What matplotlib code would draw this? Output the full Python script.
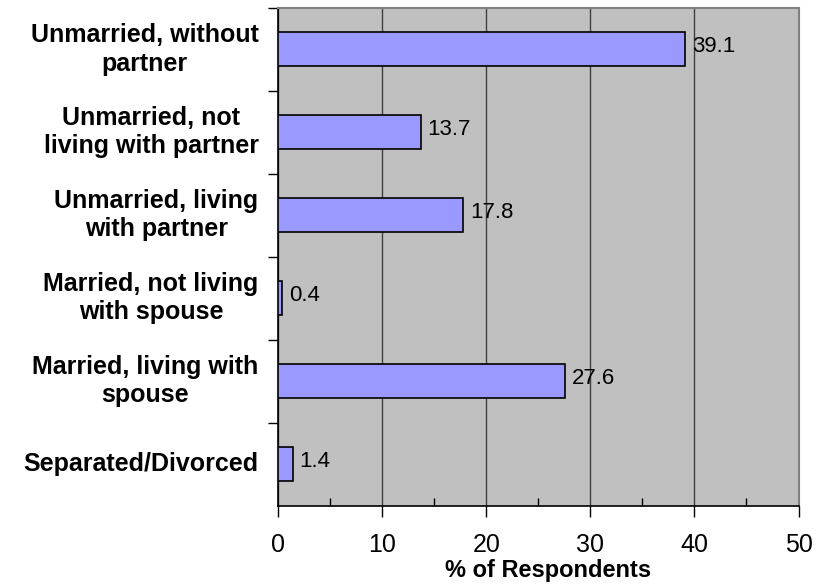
import matplotlib
matplotlib.use("Agg")
import matplotlib.pyplot as plt
from matplotlib.ticker import MultipleLocator

plt.rcParams['font.family'] = ['Liberation Sans', 'DejaVu Sans']

categories = ["Unmarried, without\npartner", "Unmarried, not\nliving with partner",
              "Unmarried, living\nwith partner", "Married, not living\nwith spouse",
              "Married, living with\nspouse", "Separated/Divorced"]
values = [39.1, 13.7, 17.8, 0.4, 27.6, 1.4]
xticks = [0, 10, 20, 30, 40, 50]

fig = plt.figure(figsize=(8.17, 5.86), dpi=100)
ax = fig.add_axes([278/817, 1-505.5/586, 520.5/817, 497.5/586])
ax.set_facecolor('#C0C0C0')

n = len(categories)
ypos = list(range(n))[::-1]
ax.barh(ypos, values, height=0.41, color='#9999FF', edgecolor='black', linewidth=1.2, zorder=3)
for y, v in zip(ypos, values):
    ax.text(v + 0.65, y + 0.03, f"{v}", va='center', ha='left', fontsize=16, zorder=4)

ax.set_xlim(0, 50)
ax.set_ylim(-0.5, n - 0.5)
ax.set_xticks(xticks)
ax.set_xticklabels([str(t) for t in xticks], fontsize=18)
ax.xaxis.set_minor_locator(MultipleLocator(5))
ax.tick_params(axis='x', which='major', direction='out', length=8, width=1, pad=12)
ax.tick_params(axis='x', which='minor', direction='in', length=5.5, width=1)
ax.set_yticks([i + 0.5 for i in range(n)])
ax.set_yticklabels([])
ax.tick_params(axis='y', which='major', direction='out', length=7, width=1)
ax.set_yticks([y + (0.06 if '\n' in c else 0.025) for y, c in zip(ypos, categories)], minor=True)
ax.set_yticklabels(categories, minor=True, fontsize=18, fontweight='bold', ha='right',
                   multialignment='center', linespacing=1.24)
ax.tick_params(axis='y', which='minor', length=0, pad=14)
ax.grid(axis='x', which='major', color='#404040', linewidth=1, zorder=1)
ax.set_xlabel('% of Respondents', fontsize=17, fontweight='bold')
ax.xaxis.label.set_va('center')
ax.xaxis.set_label_coords(0.519, -0.131)

for s in ['top', 'right']:
    ax.spines[s].set_color('#808080')
    ax.spines[s].set_linewidth(1.5)
for s in ['left', 'bottom']:
    ax.spines[s].set_color('black')
    ax.spines[s].set_linewidth(1.2)

fig.savefig('out.png', dpi=100)
